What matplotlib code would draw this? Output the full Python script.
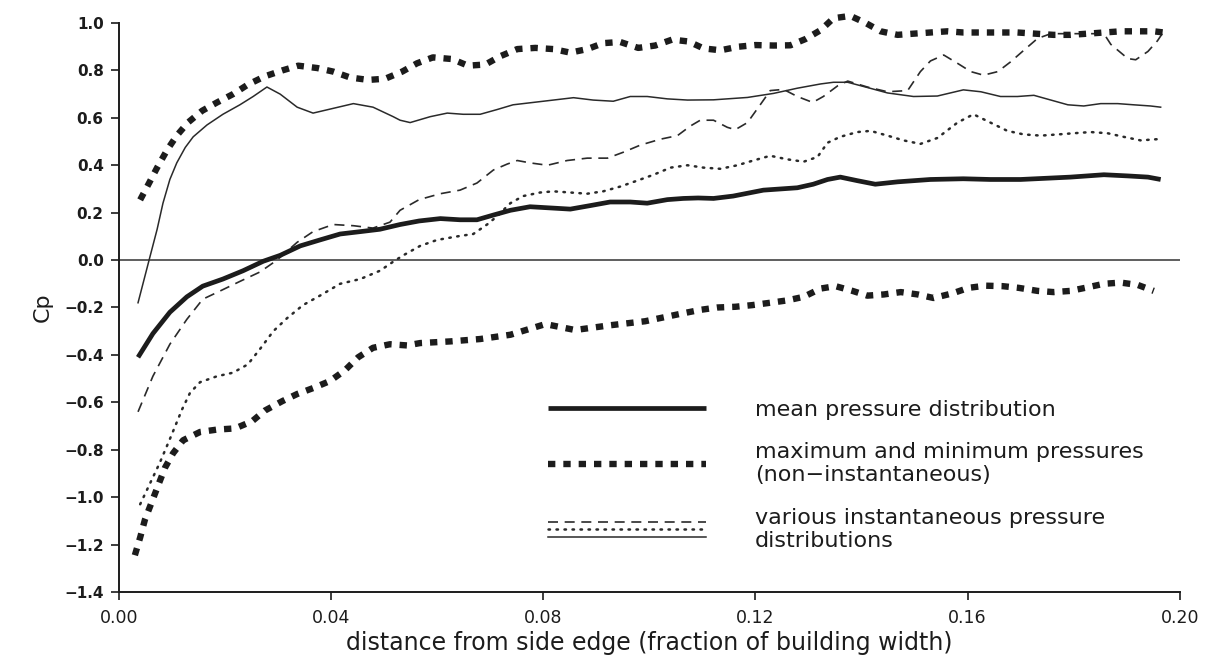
import matplotlib
matplotlib.use("Agg")
import matplotlib.pyplot as plt
from matplotlib.legend_handler import HandlerBase
from matplotlib.lines import Line2D

# distance from side edge (fraction of building width) and Cp values
mean_x = [0.0036, 0.0064, 0.0096, 0.0128, 0.0158, 0.0196, 0.0234, 0.0272, 0.0304, 0.0342,
          0.0379, 0.0417, 0.0455, 0.0492, 0.0530, 0.0566, 0.0606, 0.0643, 0.0675, 0.0706,
          0.0738, 0.0775, 0.0813, 0.0851, 0.0889, 0.0926, 0.0964, 0.0996, 0.1034, 0.1064,
          0.1092, 0.1121, 0.1158, 0.1215, 0.1279, 0.1309, 0.1336, 0.1360, 0.1392, 0.1426,
          0.1468, 0.1530, 0.1592, 0.1643, 0.1700, 0.1794, 0.1857, 0.1902, 0.1940, 0.1964]
mean_cp = [-0.41, -0.31, -0.22, -0.155, -0.11, -0.08, -0.045, -0.005, 0.02, 0.06,
           0.085, 0.11, 0.12, 0.13, 0.15, 0.165, 0.175, 0.17, 0.17, 0.19,
           0.21, 0.225, 0.22, 0.215, 0.23, 0.245, 0.245, 0.24, 0.255, 0.26,
           0.262, 0.26, 0.27, 0.295, 0.305, 0.32, 0.34, 0.35, 0.335, 0.32,
           0.33, 0.34, 0.343, 0.34, 0.34, 0.35, 0.36, 0.355, 0.35, 0.34]

max_x = [0.0040, 0.0058, 0.0072, 0.0091, 0.0109, 0.0130, 0.0157, 0.0185, 0.0215, 0.0243,
         0.0275, 0.0308, 0.0338, 0.0374, 0.0404, 0.0436, 0.0470, 0.0502, 0.0534, 0.0562,
         0.0592, 0.0628, 0.0658, 0.0691, 0.0719, 0.0751, 0.0785, 0.0819, 0.0851, 0.0883,
         0.0913, 0.0945, 0.0979, 0.1011, 0.1043, 0.1074, 0.1102, 0.1134, 0.1168, 0.1200,
         0.1234, 0.1266, 0.1294, 0.1323, 0.1347, 0.1379, 0.1408, 0.1436, 0.1468, 0.1498,
         0.1530, 0.1562, 0.1592, 0.1628, 0.1662, 0.1694, 0.1728, 0.1762, 0.1794, 0.1826,
         0.1857, 0.1889, 0.1921, 0.1951, 0.1970]
max_cp = [0.254, 0.33, 0.39, 0.465, 0.525, 0.58, 0.63, 0.665, 0.70, 0.74,
          0.775, 0.80, 0.82, 0.81, 0.795, 0.77, 0.76, 0.765, 0.795, 0.83,
          0.855, 0.848, 0.82, 0.825, 0.86, 0.89, 0.895, 0.89, 0.875, 0.89,
          0.915, 0.92, 0.895, 0.905, 0.93, 0.922, 0.893, 0.885, 0.90, 0.907,
          0.905, 0.906, 0.932, 0.97, 1.02, 1.03, 1.0, 0.965, 0.95, 0.955,
          0.96, 0.965, 0.96, 0.96, 0.96, 0.96, 0.955, 0.95, 0.95, 0.955,
          0.96, 0.965, 0.965, 0.965, 0.96]

min_x = [0.0030, 0.0040, 0.0049, 0.0062, 0.0074, 0.0087, 0.0102, 0.0121, 0.0153, 0.0185,
         0.0219, 0.0251, 0.0275, 0.0308, 0.0336, 0.0366, 0.0398, 0.0426, 0.0451, 0.0479,
         0.0511, 0.0543, 0.0568, 0.0625, 0.0681, 0.0738, 0.0804, 0.0860, 0.0926, 0.0992,
         0.1058, 0.1096, 0.1128, 0.1162, 0.1194, 0.1228, 0.1260, 0.1291, 0.1323, 0.1351,
         0.1383, 0.1411, 0.1442, 0.1474, 0.1506, 0.1536, 0.1572, 0.1602, 0.1634, 0.1666,
         0.1696, 0.1732, 0.1762, 0.1794, 0.1826, 0.1857, 0.1889, 0.1921, 0.1951]
min_cp = [-1.245, -1.17, -1.095, -1.02, -0.95, -0.875, -0.815, -0.76, -0.725, -0.715,
          -0.71, -0.68, -0.635, -0.595, -0.565, -0.54, -0.51, -0.465, -0.41, -0.37,
          -0.355, -0.36, -0.35, -0.343, -0.333, -0.315, -0.27, -0.295, -0.275, -0.258,
          -0.227, -0.21, -0.20, -0.197, -0.19, -0.18, -0.17, -0.155, -0.12, -0.11,
          -0.13, -0.15, -0.145, -0.135, -0.145, -0.16, -0.14, -0.117, -0.108, -0.11,
          -0.117, -0.13, -0.135, -0.13, -0.115, -0.10, -0.095, -0.105, -0.13]

inst_solid_x = [0.0036, 0.0058, 0.0072, 0.0083, 0.0096, 0.0109, 0.0125, 0.0140, 0.0166, 0.0196,
                0.0228, 0.0253, 0.0279, 0.0304, 0.0336, 0.0366, 0.0404, 0.0442, 0.0479, 0.0517,
                0.0530, 0.0549, 0.0587, 0.0619, 0.0649, 0.0681, 0.0713, 0.0743, 0.0781, 0.0819,
                0.0857, 0.0894, 0.0932, 0.0964, 0.0996, 0.1034, 0.1072, 0.1121, 0.1185, 0.1234,
                0.1279, 0.1323, 0.1347, 0.1374, 0.1411, 0.1449, 0.1498, 0.1543, 0.1592, 0.1625,
                0.1662, 0.1694, 0.1725, 0.1757, 0.1789, 0.1819, 0.1851, 0.1883, 0.1913, 0.1945,
                0.1964]
inst_solid_cp = [-0.18, 0.01, 0.13, 0.24, 0.34, 0.41, 0.475, 0.52, 0.57, 0.615,
                 0.655, 0.69, 0.73, 0.70, 0.645, 0.62, 0.64, 0.66, 0.645, 0.605,
                 0.59, 0.58, 0.605, 0.62, 0.615, 0.615, 0.635, 0.655, 0.665, 0.675,
                 0.685, 0.675, 0.67, 0.69, 0.69, 0.68, 0.675, 0.676, 0.686, 0.703,
                 0.725, 0.743, 0.75, 0.75, 0.728, 0.705, 0.69, 0.692, 0.718, 0.71,
                 0.69, 0.69, 0.695, 0.675, 0.655, 0.65, 0.66, 0.66, 0.655, 0.65,
                 0.645]

inst_dash_x = [0.0036, 0.0064, 0.0096, 0.0128, 0.0158, 0.0191, 0.0228, 0.0266, 0.0298, 0.0336,
               0.0366, 0.0404, 0.0442, 0.0479, 0.0511, 0.0530, 0.0566, 0.0606, 0.0643, 0.0675,
               0.0706, 0.0732, 0.0751, 0.0775, 0.0808, 0.0845, 0.0883, 0.0921, 0.0951, 0.0983,
               0.1021, 0.1053, 0.1077, 0.1096, 0.1121, 0.1147, 0.1162, 0.1185, 0.1209, 0.1228,
               0.1253, 0.1279, 0.1308, 0.1328, 0.1355, 0.1374, 0.1411, 0.1449, 0.1487, 0.1511,
               0.1530, 0.1555, 0.1581, 0.1606, 0.1630, 0.1657, 0.1681, 0.1706, 0.1732, 0.1757,
               0.1800, 0.1857, 0.1870, 0.1902, 0.1917, 0.1940, 0.1958, 0.1970]
inst_dash_cp = [-0.64, -0.49, -0.355, -0.25, -0.165, -0.13, -0.09, -0.05, 0.0, 0.075,
                0.12, 0.15, 0.145, 0.135, 0.16, 0.21, 0.255, 0.28, 0.295, 0.325,
                0.38, 0.405, 0.42, 0.41, 0.40, 0.42, 0.43, 0.43, 0.455, 0.485,
                0.51, 0.525, 0.565, 0.59, 0.59, 0.56, 0.55, 0.58, 0.655, 0.715,
                0.72, 0.69, 0.665, 0.69, 0.735, 0.755, 0.73, 0.71, 0.715, 0.795,
                0.84, 0.865, 0.83, 0.795, 0.78, 0.795, 0.836, 0.885, 0.935, 0.955,
                0.955, 0.955, 0.91, 0.85, 0.845, 0.88, 0.925, 0.965]

inst_dot_x = [0.0040, 0.0077, 0.0096, 0.0119, 0.0134, 0.0153, 0.0185, 0.0215, 0.0243, 0.0266,
              0.0291, 0.0317, 0.0347, 0.0379, 0.0417, 0.0455, 0.0492, 0.0517, 0.0536, 0.0568,
              0.0600, 0.0638, 0.0668, 0.0694, 0.0713, 0.0738, 0.0762, 0.0794, 0.0819, 0.0851,
              0.0883, 0.0913, 0.0945, 0.0977, 0.1008, 0.1040, 0.1072, 0.1102, 0.1134, 0.1166,
              0.1196, 0.1228, 0.1260, 0.1291, 0.1317, 0.1336, 0.1360, 0.1392, 0.1417, 0.1449,
              0.1479, 0.1511, 0.1543, 0.1581, 0.1611, 0.1643, 0.1675, 0.1706, 0.1738, 0.1770,
              0.1800, 0.1832, 0.1864, 0.1894, 0.1926, 0.1958]
inst_dot_cp = [-1.03, -0.855, -0.755, -0.63, -0.56, -0.515, -0.49, -0.475, -0.44, -0.375,
               -0.30, -0.245, -0.19, -0.15, -0.10, -0.08, -0.045, -0.007, 0.02, 0.06,
               0.085, 0.10, 0.11, 0.15, 0.185, 0.24, 0.27, 0.285, 0.29, 0.285,
               0.28, 0.29, 0.31, 0.335, 0.36, 0.39, 0.40, 0.39, 0.385, 0.40,
               0.42, 0.44, 0.425, 0.415, 0.435, 0.495, 0.52, 0.54, 0.545, 0.525,
               0.505, 0.49, 0.515, 0.58, 0.615, 0.58, 0.545, 0.53, 0.525, 0.53,
               0.535, 0.54, 0.535, 0.52, 0.505, 0.51]

x_ticks = [0.00, 0.04, 0.08, 0.12, 0.16, 0.20]
y_ticks = [-1.4, -1.2, -1.0, -0.8, -0.6, -0.4, -0.2, 0.0, 0.2, 0.4, 0.6, 0.8, 1.0]

legend_labels = ["mean pressure distribution",
                 "maximum and minimum pressures\n(non\u2212instantaneous)",
                 "various instantaneous pressure\ndistributions"]

plt.rcParams['font.family'] = ['DejaVu Sans']
ink = '#1c1c1c'

thick = dict(color=ink, lw=3.4, solid_capstyle='butt', clip_on=False)
maxmin = dict(color=ink, lw=4.6, linestyle=(0, (1.15, 1.25)), dash_capstyle='butt', clip_on=False)
thin_solid = dict(color='#2a2a2a', lw=1.1, clip_on=False)
thin_dash = dict(color='#2a2a2a', lw=1.2, linestyle=(0, (6, 4)), clip_on=False)
thin_dot = dict(color='#2a2a2a', lw=1.8, linestyle=(0, (0.6, 2.6)), dash_capstyle='round', clip_on=False)


class StackedHandler(HandlerBase):
    # three thin lines stacked in one legend slot
    def create_artists(self, legend, orig_handle, xdescent, ydescent, width, height, fontsize, trans):
        arts = []
        offsets = [0.34, 0.0, -0.34]
        for h, off in zip(orig_handle, offsets):
            y = height / 2 - ydescent + off * fontsize
            ln = Line2D([-xdescent, width - xdescent], [y, y])
            ln.update_from(h)
            ln.set_transform(trans)
            arts.append(ln)
        return arts


fig = plt.figure(figsize=(12.1, 6.65), dpi=100)
ax = fig.add_axes([0.0983, 0.1098, 0.8767, 0.8556])

ax.axhline(0.0, color='#333333', lw=1.1)

l_dash, = ax.plot(inst_dash_x, inst_dash_cp, **thin_dash)
l_dot, = ax.plot(inst_dot_x, inst_dot_cp, **thin_dot)
l_sol, = ax.plot(inst_solid_x, inst_solid_cp, **thin_solid)
l_mean, = ax.plot(mean_x, mean_cp, **thick)
l_max, = ax.plot(max_x, max_cp, **maxmin)
ax.plot(min_x, min_cp, **maxmin)

ax.set_xlim(0, 0.20)
ax.set_ylim(-1.4, 1.0)
ax.set_xticks(x_ticks)
ax.set_xticklabels([f"{v:.2f}" for v in x_ticks], fontsize=12.5)
ax.set_yticks(y_ticks)
ax.set_yticklabels([f"{v:.1f}".replace('-', '\u2212') for v in y_ticks], fontsize=11, fontweight='bold')
ax.tick_params(direction='out', length=6, width=1.2, color=ink, labelcolor=ink)
ax.tick_params(axis='y', pad=5)
ax.tick_params(axis='x', pad=6)

for s in ['top', 'right']:
    ax.spines[s].set_visible(False)
for s in ['left', 'bottom']:
    ax.spines[s].set_linewidth(1.4)
    ax.spines[s].set_color(ink)

ax.set_xlabel("distance from side edge (fraction of building width)", fontsize=17, color=ink, labelpad=3)
ax.set_ylabel("Cp", fontsize=16, color=ink, labelpad=8)

leg = ax.legend([l_mean, l_max, (l_dash, l_dot, l_sol)], legend_labels,
                handler_map={tuple: StackedHandler()},
                loc='upper left', bbox_to_anchor=(548 / 1210, 1 - 400 / 665),
                bbox_transform=fig.transFigure, frameon=False, fontsize=16,
                handlelength=7.1, handletextpad=2.2, labelspacing=1.0,
                borderpad=0, borderaxespad=0)
for t in leg.get_texts():
    t.set_color(ink)

fig.savefig("out.png", dpi=100)
